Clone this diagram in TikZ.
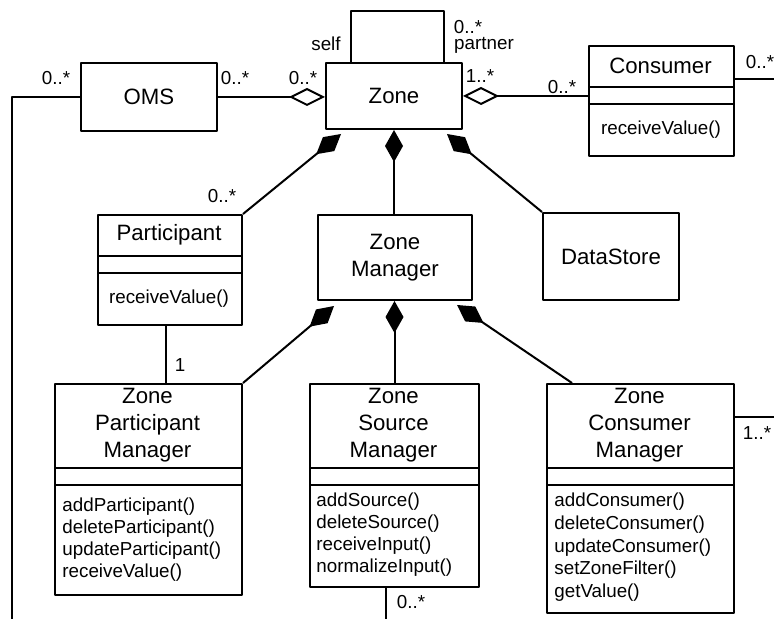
\documentclass[tikz,border=0pt]{standalone}
\usepackage{fontspec}
\setmainfont{Liberation Sans}
\usetikzlibrary{arrows.meta,calc}
\tikzset{
	cls/.style={draw, line width=1pt, anchor=north west, inner sep=0pt,
		font=\fontsize{11.1}{13.5}\selectfont, align=center},
	ttl/.style={font=\fontsize{11.1}{13.5}\selectfont, align=center, inner sep=0pt},
	meth/.style={font=\fontsize{9.4}{11}\selectfont, anchor=west, inner sep=0pt},
	mult/.style={font=\fontsize{9.4}{11}\selectfont, inner sep=0pt},
	link/.style={line width=1pt},
	aggr/.style={link, -{Diamond[open, length=18pt, width=9pt]}},
	comp/.style={link, -{Diamond[length=16pt, width=9pt]}},
}
\begin{document}
\begin{tikzpicture}[x=.5pt, y=-.5pt, line join=round]
	\useasboundingbox (0,0) rectangle (774,619);
	% ve lop
	\node[cls, minimum width=68pt, minimum height=34pt] (oms) at (80,62) {OMS};
	\node[cls, minimum width=68pt, minimum height=33pt] (zone) at (325,62) {Zone};
	\node[cls, minimum width=72.5pt, minimum height=55pt] (cons) at (588,45) {};
	\node[cls, minimum width=72pt, minimum height=55pt] (part) at (97,214) {};
	\node[cls, minimum width=77pt, minimum height=42.5pt] (zm) at (317,214) {Zone\\Manager};
	\node[cls, minimum width=68pt, minimum height=43.5pt] (ds) at (542,212) {DataStore};
	\node[cls, minimum width=93.5pt, minimum height=105.5pt] (zpm) at (54,383) {};
	\node[cls, minimum width=84.5pt, minimum height=101.5pt] (zsm) at (309,383) {};
	\node[cls, minimum width=93.5pt, minimum height=114.5pt] (zcm) at (546,383) {};
	\foreach \c/\a/\b in {cons/42/59,part/42/59,zpm/85/102,zsm/85/102,zcm/85/102}{
		\draw[link] ($(\c.north west)+(0,\a)$) -- ($(\c.north east)+(0,\a)$)
		($(\c.north west)+(0,\b)$) -- ($(\c.north east)+(0,\b)$);}
	% ten lop
	\node[ttl] (cons-t) at (660.5,66) {Consumer};
	\node[ttl] (part-t) at (169,235) {Participant};
	\node[ttl] (zpm-t) at (147.5,425) {Zone\\Participant\\Manager};
	\node[ttl] (zsm-t) at (393.5,425) {Zone\\Source\\Manager};
	\node[ttl] (zcm-t) at (639.5,425) {Zone\\Consumer\\Manager};
	% phuong thuc
	\node[meth, anchor=center] (cons-m) at (661,130) {receiveValue()};
	\node[meth, anchor=center] (part-m) at (169,299) {receiveValue()};
	\foreach \mname [count=\i from 0] in {addParticipant(),deleteParticipant(),updateParticipant(),receiveValue()}
		\node[meth] (zpm-m\i) at (62,{507+22*\i}) {\mname};
	\foreach \mname [count=\i from 0] in {addSource(),deleteSource(),receiveInput(),normalizeInput()}
		\node[meth] (zsm-m\i) at (316,{502+22*\i}) {\mname};
	\foreach \mname [count=\i from 0] in {addConsumer(),deleteConsumer(),updateConsumer(),setZoneFilter(),getValue()}
		\node[meth] (zcm-m\i) at (554,{502+22.7*\i}) {\mname};
	% duong noi
	\coordinate (wcorner) at (12,619);
	\coordinate (zsmend) at (386,619);
	\coordinate (consend) at (774,79);
	\coordinate (zcmend) at (774,417);
	\coordinate (pz) at ($(part.south west)+(69,0)$);
	\draw[link] (oms.west) -| (wcorner);
	\draw[aggr] (oms.east) -- (oms.east -| zone.west);
	\draw[aggr] (cons.west |- zone.east) -- (zone.east);
	\draw[link] ($(zone.north west)+(26,0)$) -- ++(0,-51) -| ($(zone.north west)+(119,0)$);
	\draw[link] (consend -| cons.east) -- (consend);
	\draw[comp] (part.north east) -- ($(zone.south west)+(16,4)$);
	\draw[comp] (zone.south |- zm.north) -- (zone.south);
	\draw[comp] (ds.north west) -- ($(zone.south east)+(-16,4)$);
	\draw[comp] (zpm.north east) -- ($(zm.south west)+(17,5)$);
	\draw[comp] (zsm.north) -- (zsm.north |- zm.south);
	\draw[comp] ($(zcm.north west)+(26,0)$) -- ($(zm.south east)+(-16,4)$);
	\draw[link] (pz) -- (pz |- zpm.north);
	\draw[link] (zsmend |- zsm.south) -- (zsmend);
	\draw[link] (zcmend -| zcm.east) -- (zcmend);
	% boi so
	\node[mult] (l-oms-w) at (56,78) {0..*};
	\node[mult] (l-oms-e) at (235,78) {0..*};
	\node[mult] (l-zone-w) at (303,78) {0..*};
	\node[mult] (l-self) at (326,44) {self};
	\node[mult] (l-partner-m) at (468,27) {0..*};
	\node[mult] (l-partner) at (484,45) {partner};
	\node[mult] (l-zone-e) at (480,76) {1..*};
	\node[mult] (l-cons-w) at (562,87) {0..*};
	\node[mult] (l-cons-e) at (760,62) {0..*};
	\node[mult] (l-part) at (222,196) {0..*};
	\node[mult] (l-one) at (180,365) {1};
	\node[mult] (l-zsm) at (411,602) {0..*};
	\node[mult] (l-zcm) at (757,433) {1..*};
\end{tikzpicture}
\end{document}
